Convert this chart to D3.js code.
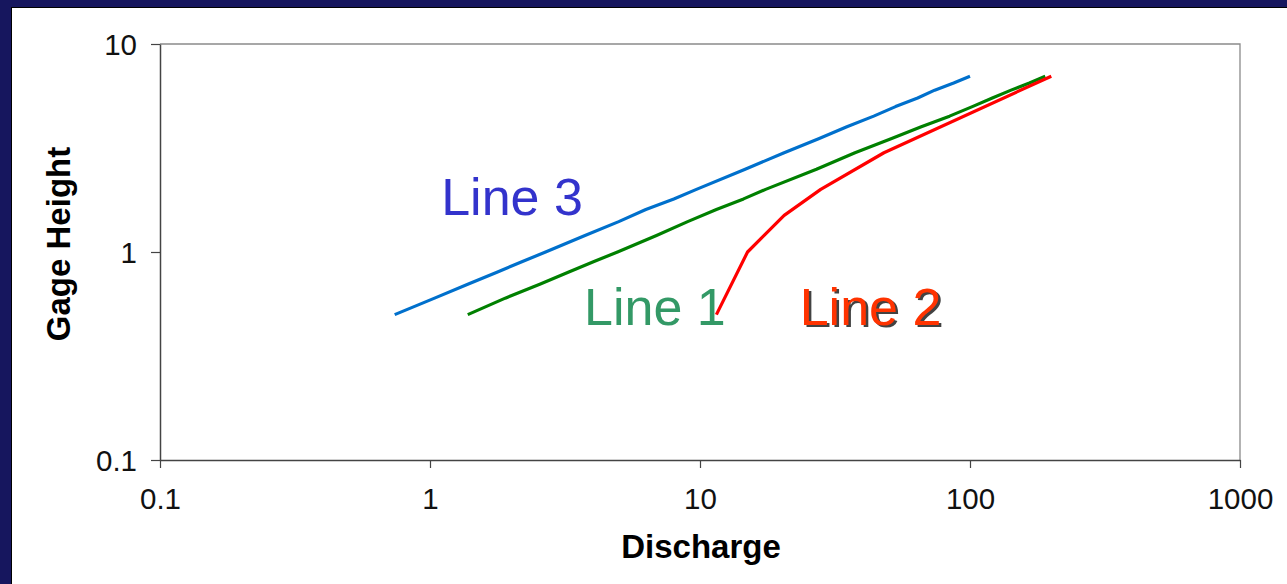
<!DOCTYPE html>
<html>
<head>
<meta charset="utf-8">
<script src="https://cdn.jsdelivr.net/npm/d3@7"></script>
<style>
  html, body { margin: 0; padding: 0; background: #16165e; }
  svg { display: block; }
  text { font-family: "Liberation Sans", Arial, sans-serif; }
</style>
</head>
<body>
<svg id="chart" width="1287" height="584"></svg>
<script>
// ---- data ----
const xTicks = [0.1, 1, 10, 100, 1000];
const yTicks = [0.1, 1, 10];
const xTickLabels = ["0.1", "1", "10", "100", "1000"];
const yTickLabels = ["0.1", "1", "10"];

// Line 1 (green)
const line1Discharge = [1.38, 1.9, 2.55, 3.25, 4.05, 4.95, 6.9, 9.0, 11.5, 14.5, 17.5, 27, 37.5, 51, 66, 84, 102, 121, 142, 166, 190];
const line1Height    = [0.5, 0.6, 0.7, 0.8, 0.9, 1.0, 1.2, 1.4, 1.6, 1.8, 2.0, 2.5, 3.0, 3.5, 4.0, 4.5, 5.0, 5.5, 6.0, 6.5, 7.0];

// Line 2 (red)
const line2Discharge = [11.5, 15, 20.5, 28, 48, 200];
const line2Height    = [0.5, 1.0, 1.5, 2.0, 3.0, 7.0];

// Line 3 (blue)
const line3Discharge = [0.74, 1.04, 1.38, 1.77, 2.2, 2.68, 3.75, 5.0, 6.3, 8.0, 9.7, 14.7, 20.5, 27.5, 35, 44, 53, 64, 74, 87, 100];
const line3Height    = [0.5, 0.6, 0.7, 0.8, 0.9, 1.0, 1.2, 1.4, 1.6, 1.8, 2.0, 2.5, 3.0, 3.5, 4.0, 4.5, 5.0, 5.5, 6.0, 6.5, 7.0];

const seriesNames  = ["Line 1", "Line 2", "Line 3"];
const seriesColors = ["#008000", "#ff0000", "#0070cc"];
const labelColors  = ["#339966", "#ff3300", "#3333cc"];
// label anchor positions in data space (discharge, gage height) - text start / baseline
const labelDischarge = [3.72, 23.4, 1.1];
const labelHeight    = [0.446, 0.446, 1.5];

// ---- drawing ----
const svg = d3.select("#chart");
const W = 1287, H = 584;

// white card
svg.append("rect").attr("x", 11.5).attr("y", 7.5).attr("width", W).attr("height", H)
  .attr("fill", "#ffffff").attr("stroke", "#000").attr("stroke-width", 1);

const plot = { left: 160, right: 1240, top: 44, bottom: 460 };

const x = d3.scaleLog().domain([0.1, 1000]).range([plot.left, plot.right]);
const y = d3.scaleLog().domain([0.1, 10]).range([plot.bottom, plot.top]);

// top/right frame (light gray)
svg.append("path")
  .attr("d", `M${plot.left},${plot.top}H${plot.right}V${plot.bottom}`)
  .attr("fill", "none").attr("stroke", "#8a8a8a").attr("stroke-width", 1.3);

// axes
const xAxis = d3.axisBottom(x).tickValues(xTicks)
  .tickFormat((d, i) => xTickLabels[i]).tickSize(8).tickSizeOuter(0);
const yAxis = d3.axisLeft(y).tickValues(yTicks)
  .tickFormat((d, i) => yTickLabels[i]).tickSize(9).tickSizeOuter(0);

const gx = svg.append("g").attr("transform", `translate(0,${plot.bottom})`).call(xAxis);
const gy = svg.append("g").attr("transform", `translate(${plot.left},0)`).call(yAxis);

[gx, gy].forEach(g => {
  g.select(".domain").attr("stroke", "#444").attr("stroke-width", 1.5);
  g.selectAll(".tick line").attr("stroke", "#444").attr("stroke-width", 1.2);
  g.selectAll(".tick text").attr("fill", "#111").attr("font-size", 29.5)
    .attr("font-family", "'Liberation Sans', Arial, sans-serif");
});
gx.selectAll(".tick text").attr("dy", null).attr("y", 48.5);
gy.selectAll(".tick text").attr("x", -23).attr("dy", "0.36em");

// axis titles
svg.append("text").attr("x", 701).attr("y", 558).attr("text-anchor", "middle")
  .attr("font-size", 33).attr("font-weight", "bold").attr("fill", "#000").text("Discharge");
svg.append("text").attr("transform", "translate(70,244) rotate(-90)").attr("text-anchor", "middle")
  .attr("font-size", 33).attr("font-weight", "bold").attr("fill", "#000").text("Gage Height");

// lines
const series = [
  d3.zip(line1Discharge, line1Height),
  d3.zip(line2Discharge, line2Height),
  d3.zip(line3Discharge, line3Height)
];
const lineGen = d3.line().x(d => x(d[0])).y(d => y(d[1]));
series.forEach((s, i) => {
  svg.append("path").datum(s).attr("d", lineGen)
    .attr("fill", "none").attr("stroke", seriesColors[i]).attr("stroke-width", 3.2)
    .attr("stroke-linejoin", "round");
});

// labels
seriesNames.forEach((name, i) => {
  const lx = x(labelDischarge[i]), ly = y(labelHeight[i]);
  if (i === 1) {
    svg.append("text").attr("x", lx + 2.5).attr("y", ly + 2.5)
      .attr("font-size", 52).attr("fill", "#222").attr("opacity", 0.85).text(name);
  }
  svg.append("text").attr("x", lx).attr("y", ly)
    .attr("font-size", 52).attr("fill", labelColors[i]).text(name);
});
</script>
</body>
</html>
